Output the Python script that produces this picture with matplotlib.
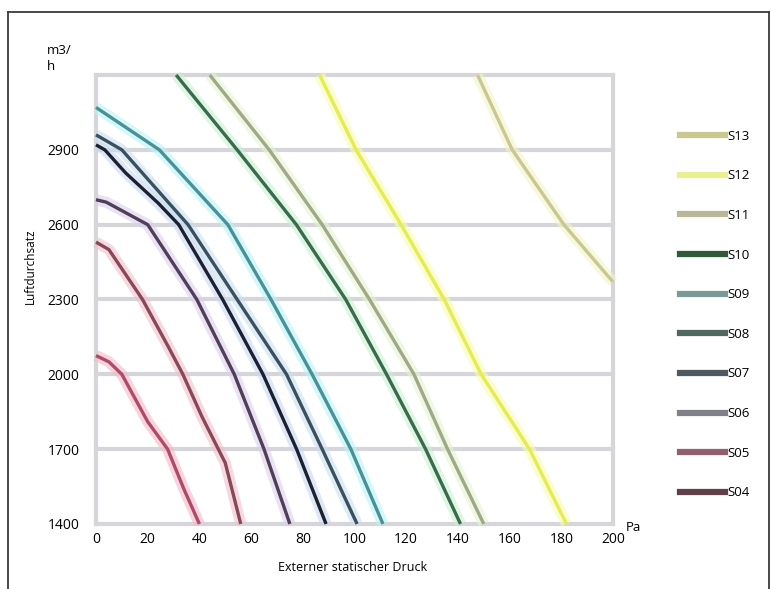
import matplotlib
matplotlib.use("Agg")
import matplotlib.pyplot as plt
from matplotlib.lines import Line2D

# ---- data ----
x_ticks = [0, 20, 40, 60, 80, 100, 120, 140, 160, 180, 200]
y_ticks = [1400, 1700, 2000, 2300, 2600, 2900]
y_top = 3200

series_names = ["S04", "S05", "S06", "S07", "S08", "S09", "S10", "S11", "S12", "S13"]

s04_x = [0, 5, 10, 20, 27.7, 34, 40]
s04_y = [2075, 2050, 2000, 1810, 1700, 1540, 1400]
s05_x = [0, 5, 18, 28, 33.6, 41, 50, 56]
s05_y = [2530, 2500, 2300, 2110, 2000, 1830, 1645, 1400]
s06_x = [0, 4, 20, 39, 53.5, 65, 75]
s06_y = [2700, 2690, 2600, 2300, 2000, 1700, 1400]
s07_x = [0, 3.4, 11.5, 24, 32, 49, 64.6, 77.6, 89]
s07_y = [2920, 2900, 2807, 2687, 2600, 2300, 2000, 1700, 1400]
s08_x = [0, 10, 35.6, 54.6, 73.7, 87.5, 101]
s08_y = [2960, 2900, 2600, 2300, 2000, 1700, 1400]
s09_x = [0, 24.5, 51, 67.7, 83.6, 98.6, 111]
s09_y = [3070, 2900, 2600, 2300, 2000, 1700, 1400]
s10_x = [31, 54.6, 77.5, 96.6, 112.4, 127.5, 141]
s10_y = [3200, 2900, 2600, 2300, 2000, 1700, 1400]
s11_x = [44, 67, 87.5, 105.8, 123, 136, 150]
s11_y = [3200, 2900, 2600, 2300, 2000, 1700, 1400]
s12_x = [86.5, 100.6, 118, 134.7, 149, 167.7, 182]
s12_y = [3200, 2900, 2600, 2300, 2000, 1700, 1400]
s13_x = [147.6, 161, 181, 200]
s13_y = [3200, 2900, 2600, 2370]

series_x = [s04_x, s05_x, s06_x, s07_x, s08_x, s09_x, s10_x, s11_x, s12_x, s13_x]
series_y = [s04_y, s05_y, s06_y, s07_y, s08_y, s09_y, s10_y, s11_y, s12_y, s13_y]

curve_colors = ["#b04a68", "#884858", "#4e4058", "#1c2030", "#3a5060",
                "#4a9098", "#3a6a50", "#a0a888", "#e4ec50", "#c8c890"]
halo_colors = ["#f4b8c8", "#f0c0cc", "#dcd0ec", "#c8d8f0", "#c8e0ec",
               "#b8f4f4", "#c8f0d0", "#e4f4d0", "#f8fcb0", "#f4f4c8"]
legend_colors = ["#604048", "#906070", "#808088", "#505860", "#506860",
                 "#7a9a98", "#2e5a3a", "#b8b898", "#e8f090", "#c8c890"]

fig = plt.figure(figsize=(7.71, 5.89), dpi=100)
ax = fig.add_axes([0.1245, 0.1104, 0.6706, 0.7623])
ax.set_xlim(0, 200)
ax.set_ylim(1400, y_top)

for s in ax.spines.values():
    s.set_visible(False)

grid_c = "#d6d6da"
for yv in y_ticks + [y_top]:
    ax.axhline(yv, color=grid_c, lw=3, zorder=1, clip_on=False)
for xv in [0, 200]:
    ax.axvline(xv, color=grid_c, lw=3, zorder=1, clip_on=False)

for xs, ys, c, h in zip(series_x, series_y, curve_colors, halo_colors):
    ax.plot(xs, ys, color=h, lw=8, alpha=0.6, zorder=2, clip_on=False,
            solid_capstyle="butt", solid_joinstyle="round")
    ax.plot(xs, ys, color=c, lw=2.4, zorder=3, clip_on=False,
            solid_capstyle="butt", solid_joinstyle="round")

tick_font = "Open Sans"
ax.set_xticks(x_ticks)
ax.set_xticklabels([str(v) for v in x_ticks], fontsize=10, family=tick_font)
ax.set_yticks(y_ticks)
ax.set_yticklabels([str(v) for v in y_ticks], fontsize=10, family=tick_font)
ax.tick_params(axis="both", length=0)
ax.tick_params(axis="x", pad=6)
ax.tick_params(axis="y", pad=12)

fig.text(0.458, 0.036, "Externer statischer Druck",
         ha="center", va="center", fontsize=9, family=tick_font)
fig.text(0.040, 0.548, "Luftdurchsatz", rotation=90, ha="center",
         va="center", fontsize=8.5, family=tick_font)
fig.text(0.061, 0.925, "m3/\nh", ha="left", va="top", fontsize=9.5,
         family=tick_font, linespacing=1.25)
fig.text(0.812, 0.105, "Pa", ha="left", va="center", fontsize=9.5,
         family=tick_font)

handles = [Line2D([0], [0], color=c, lw=4.5) for c in legend_colors]
handles = handles[::-1]
labels = series_names[::-1]
leg = fig.legend(handles, labels, loc="upper left",
                 bbox_to_anchor=(0.8824, 0.780), frameon=False,
                 handlelength=3.4, handletextpad=0.15, labelspacing=2.02,
                 borderaxespad=0, borderpad=0,
                 prop={"family": tick_font, "size": 9.5})

# outer frame
frame_c = "#3a3a3a"
fig.add_artist(Line2D([8 / 771, 8 / 771], [0, 1 - 12 / 589], color=frame_c, lw=1.3))
fig.add_artist(Line2D([8 / 771, 769 / 771], [1 - 12 / 589, 1 - 12 / 589], color=frame_c, lw=1.3))
fig.add_artist(Line2D([769 / 771, 769 / 771], [0, 1 - 12 / 589], color=frame_c, lw=1.3))

fig.savefig("out.png", dpi=100)
